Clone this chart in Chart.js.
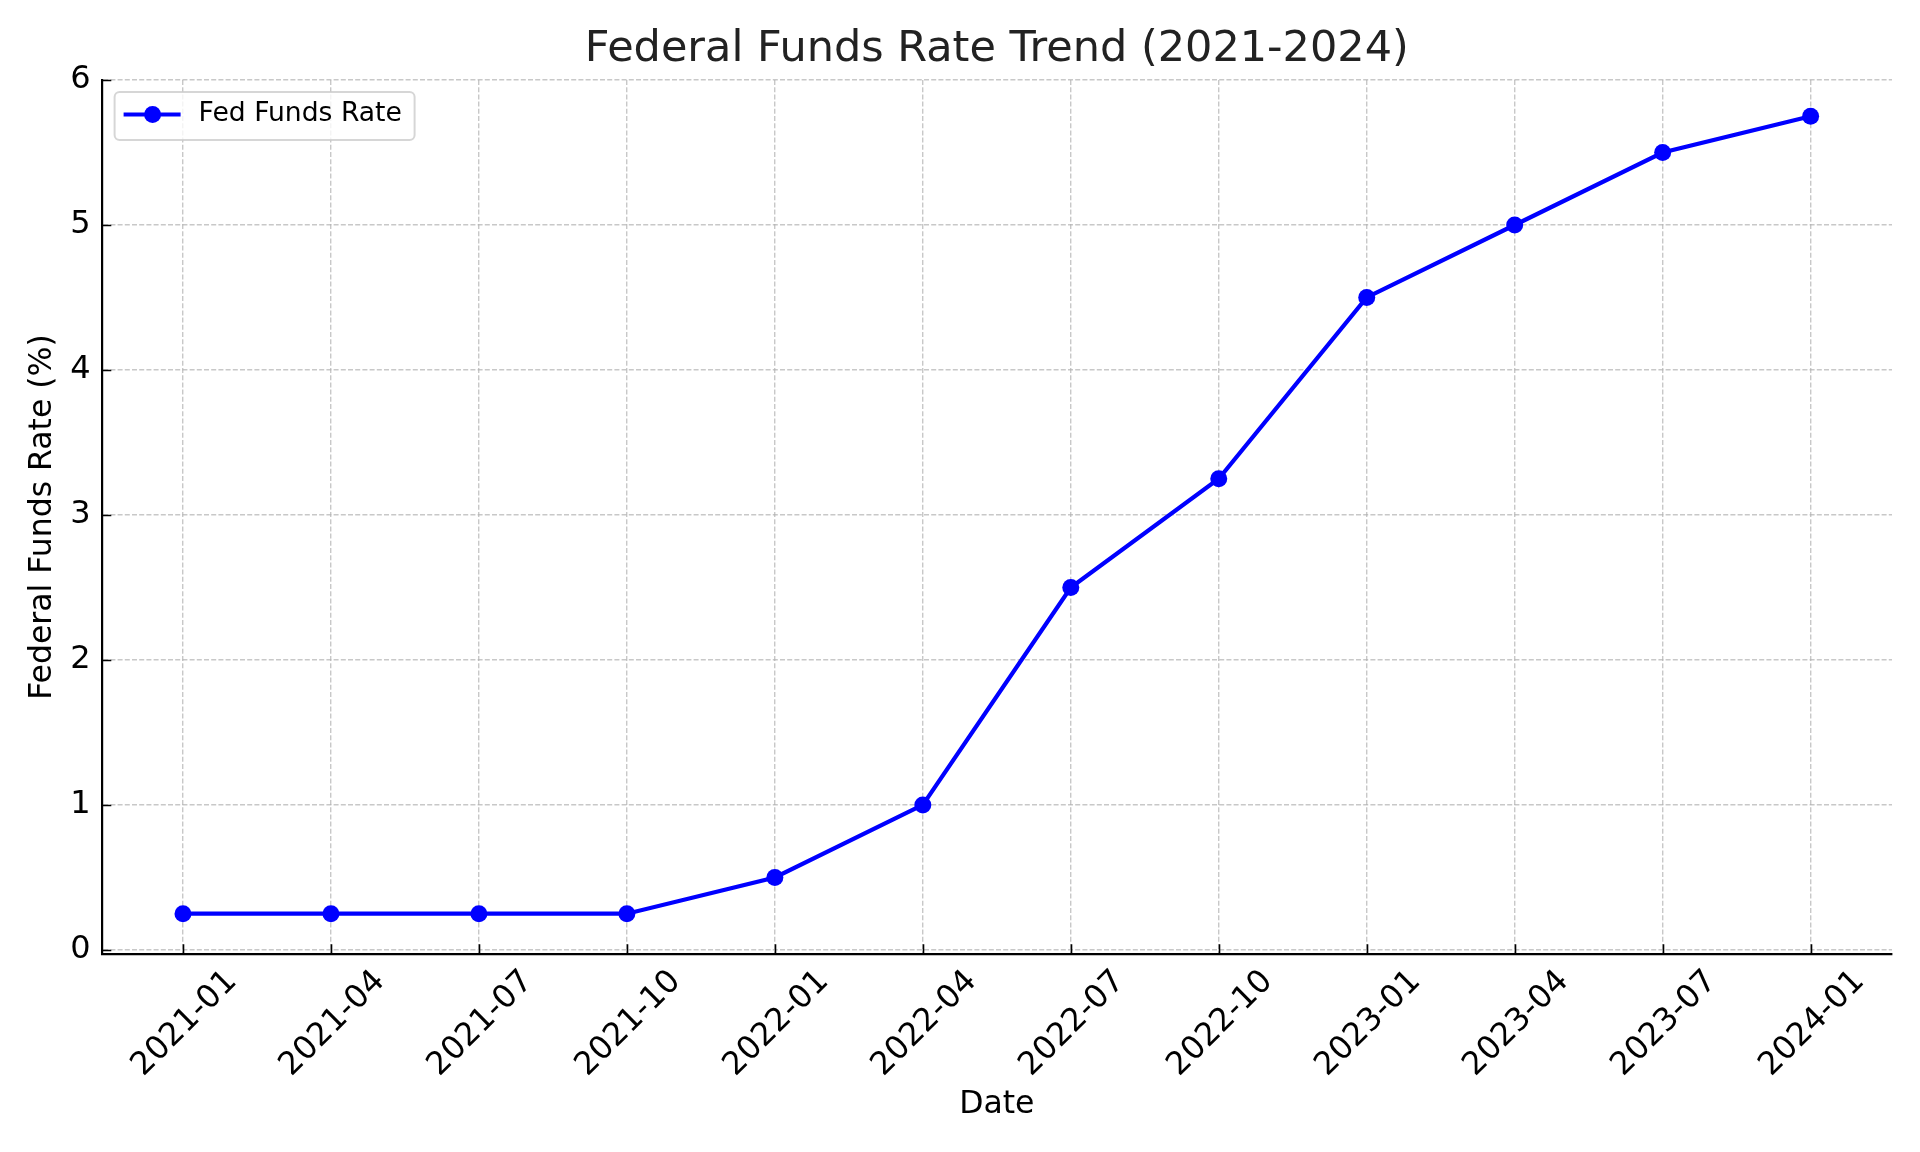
<!DOCTYPE html>
<html>
<head>
<meta charset="utf-8">
<title>Federal Funds Rate Trend (2021-2024)</title>
<script src="https://cdn.jsdelivr.net/npm/chart.js@4.4.1/dist/chart.umd.min.js"></script>
<style>
  html, body { margin: 0; padding: 0; background: #fff; }
  #wrap { width: 1920px; height: 1152px; }
</style>
</head>
<body>
<div id="wrap"><canvas id="rateChart" width="1920" height="1152"></canvas></div>
<script>
const dateLabels = ['2021-01', '2021-04', '2021-07', '2021-10', '2022-01', '2022-04',
                    '2022-07', '2022-10', '2023-01', '2023-04', '2023-07', '2024-01'];
const fedRates = [0.25, 0.25, 0.25, 0.25, 0.5, 1.0, 2.5, 3.25, 4.5, 5.0, 5.5, 5.75];
const yTicks = [0, 1, 2, 3, 4, 5, 6];
const seriesName = 'Fed Funds Rate';

const FONT = 'DejaVu Sans';
const BLUE = '#0000ff';
const GRID = 'rgba(176, 176, 176, 0.7)';

// matplotlib style ticks: pointing into the plot
const inwardTicks = {
    id: 'inwardTicks',
    afterDatasetsDraw(chart) {
        const { ctx, chartArea, scales: { x, y } } = chart;
        ctx.save();
        ctx.strokeStyle = '#000';
        ctx.lineWidth = 1.6;
        ctx.beginPath();
        x.ticks.forEach(t => {
            const px = Math.round(x.getPixelForValue(t.value)) + 0.5;
            ctx.moveTo(px, chartArea.bottom);
            ctx.lineTo(px, chartArea.bottom - 9.7);
        });
        y.ticks.forEach(t => {
            const py = Math.round(y.getPixelForValue(t.value)) + 0.5;
            ctx.moveTo(chartArea.left, py);
            ctx.lineTo(chartArea.left + 9.7, py);
        });
        ctx.stroke();
        ctx.restore();
    }
};

// legend box in the upper-left corner of the axes
const boxLegend = {
    id: 'boxLegend',
    afterDraw(chart) {
        const { ctx, chartArea } = chart;
        const ds = chart.data.datasets[0];
        const left = chartArea.left + 13, top = chartArea.top + 12;
        const w = 300, h = 48, r = 5;
        ctx.save();
        ctx.beginPath();
        ctx.roundRect(left, top, w, h, r);
        ctx.fillStyle = 'rgba(255, 255, 255, 0.8)';
        ctx.fill();
        ctx.lineWidth = 2;
        ctx.strokeStyle = 'rgba(204, 204, 204, 0.8)';
        ctx.stroke();

        const cy = top + 22.5;
        ctx.beginPath();
        ctx.moveTo(left + 9, cy);
        ctx.lineTo(left + 66, cy);
        ctx.strokeStyle = ds.borderColor;
        ctx.lineWidth = ds.borderWidth;
        ctx.stroke();
        ctx.beginPath();
        ctx.arc(left + 38, cy, ds.pointRadius, 0, Math.PI * 2);
        ctx.fillStyle = ds.pointBackgroundColor;
        ctx.fill();

        ctx.font = '26.6px "' + FONT + '"';
        ctx.fillStyle = '#000';
        ctx.textBaseline = 'middle';
        ctx.textAlign = 'left';
        ctx.fillText(ds.label, left + 84, cy);
        ctx.restore();
    }
};

new Chart(document.getElementById('rateChart').getContext('2d'), {
    type: 'line',
    data: {
        datasets: [{
            label: seriesName,
            data: fedRates.map((v, i) => ({ x: i, y: v })),
            borderColor: BLUE,
            backgroundColor: BLUE,
            borderWidth: 4.2,
            pointRadius: 8.5,
            pointHoverRadius: 8.5,
            pointBackgroundColor: BLUE,
            pointBorderWidth: 0,
            tension: 0,
            fill: false
        }]
    },
    options: {
        responsive: false,
        animation: false,
        events: [],
        layout: { padding: { left: 0, right: 28, top: 0, bottom: 0 } },
        plugins: {
            legend: { display: false },
            tooltip: { enabled: false },
            title: {
                display: true,
                text: 'Federal Funds Rate Trend (2021-2024)',
                fullSize: false,
                color: '#222',
                font: { family: FONT, size: 43, weight: 'normal', lineHeight: 1.2 },
                padding: { top: 24.5, bottom: 3.9 }
            }
        },
        scales: {
            x: {
                type: 'linear',
                min: -0.55,
                max: 11.55,
                afterBuildTicks: scale => { scale.ticks = dateLabels.map((_, i) => ({ value: i })); },
                afterFit: scale => { scale.height = 198; },
                ticks: {
                    autoSkip: false,
                    minRotation: 45,
                    maxRotation: 45,
                    padding: 9,
                    labelOffset: 49,
                    color: '#000',
                    font: { family: FONT, size: 32 },
                    callback: value => dateLabels[value]
                },
                grid: {
                    color: GRID,
                    lineWidth: 1.4,
                    drawTicks: false
                },
                border: { display: true, color: '#000', width: 2.2, dash: [5, 2.2] },
                title: {
                    display: true,
                    text: 'Date',
                    color: '#000',
                    font: { family: FONT, size: 31.5, lineHeight: 1.2 },
                    padding: { top: 0, bottom: 28 }
                }
            },
            y: {
                type: 'linear',
                min: -0.028,
                max: 6,
                afterBuildTicks: scale => { scale.ticks = yTicks.map(v => ({ value: v })); },
                afterFit: scale => { scale.width = 101.6; },
                ticks: {
                    padding: 11,
                    color: '#000',
                    font: { family: FONT, size: 32 },
                    callback: value => String(value)
                },
                grid: {
                    color: GRID,
                    lineWidth: 1.4,
                    drawTicks: false
                },
                border: { display: true, color: '#000', width: 2.2, dash: [5, 2.2] },
                title: {
                    display: true,
                    text: 'Federal Funds Rate (%)',
                    color: '#000',
                    font: { family: FONT, size: 31.5, lineHeight: 1.2 },
                    padding: { top: 23.5, bottom: 0 }
                }
            }
        }
    },
    plugins: [inwardTicks, boxLegend]
});
</script>
</body>
</html>
